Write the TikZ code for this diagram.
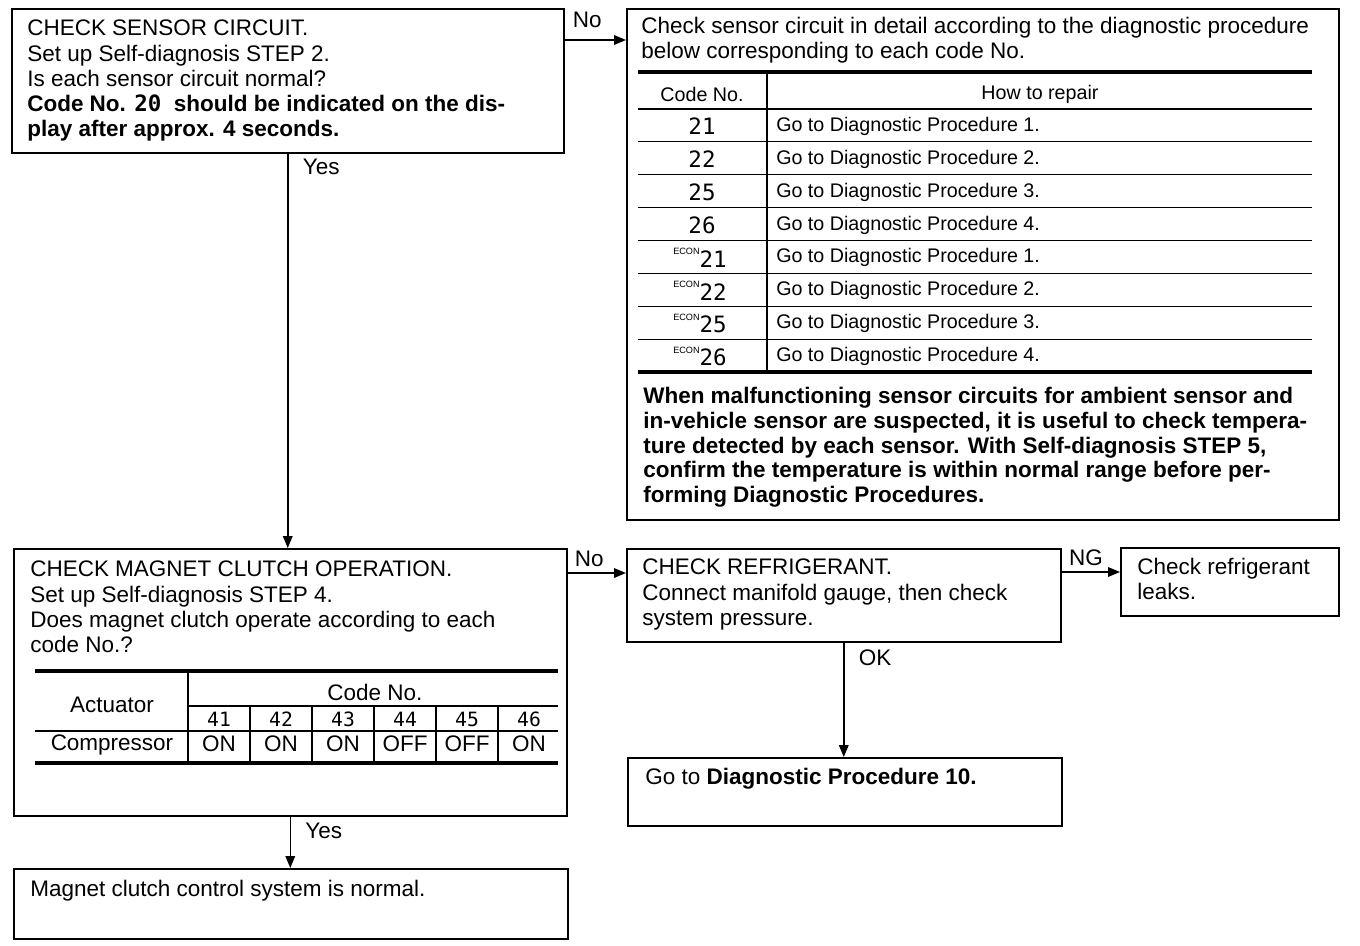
\documentclass[tikz,border=0pt]{standalone}
\usepackage{fontspec}
\setmainfont{Liberation Sans}
\newfontfamily\segfont{DejaVu Sans Mono}
\usetikzlibrary{arrows.meta,positioning,calc}

\newcommand{\seg}[1]{{\segfont\fontsize{16}{16}\selectfont #1}}
\newcommand{\segsm}[1]{{\segfont\fontsize{14}{14}\selectfont #1}}
\newcommand{\econ}[1]{\raisebox{1.2ex}{\fontsize{6.5}{7}\selectfont ECON}\seg{#1}}

\begin{document}
\begin{tikzpicture}[x=0.25mm,y=-0.25mm,
    box/.style={draw, line width=1.1pt, anchor=north west, inner sep=0pt},
    txt/.style={anchor=north west, inner sep=0pt, align=left, font=\fontsize{16}{17.8}\selectfont},
    lbl/.style={inner sep=0pt, font=\fontsize{16}{17.8}\selectfont},
    cell/.style={inner sep=0pt, font=\fontsize{14}{16}\selectfont},
    arr/.style={-{Triangle[length=3mm,width=2.4mm]}, line width=1.1pt},
    thickrule/.style={line width=2.2pt},
    thinrule/.style={line width=0.8pt}
]
\useasboundingbox (0,0) rectangle (1360,946);

% boxes
\node[box, minimum width=552*0.25mm, minimum height=144*0.25mm] (chk) at (11,8) {};
\node[box, minimum width=712*0.25mm, minimum height=511*0.25mm] (detail) at (626,8) {};
\node[box, minimum width=553*0.25mm, minimum height=267*0.25mm] (clutch) at (13,548) {};
\node[box, minimum width=434*0.25mm, minimum height=93*0.25mm] (refrig) at (626,548) {};
\node[box, minimum width=218*0.25mm, minimum height=68*0.25mm] (leaks) at (1120,547) {};
\node[box, minimum width=434*0.25mm, minimum height=68*0.25mm] (proc10) at (627,757) {};
\node[box, minimum width=554*0.25mm, minimum height=70*0.25mm] (normal) at (13,868) {};

% texts
\node[txt] (chktxt) at ($(chk.north west)+(16,12)$) {CHECK SENSOR CIRCUIT.\\Set up Self-diagnosis STEP 2.\\Is each sensor circuit normal?\\\textbf{Code No. \seg{20}\ \ should be indicated on the dis-}\\\textbf{play after approx. 4 seconds.}};
\node[txt] (dettxt) at ($(detail.north west)+(15,9)$) {Check sensor circuit in detail according to the diagnostic procedure\\below corresponding to each code No.};
\node[txt, font=\fontsize{16}{17.6}\selectfont\bfseries] (note) at (643,387) {When malfunctioning sensor circuits for ambient sensor and\\in-vehicle sensor are suspected, it is useful to check tempera-\\ture detected by each sensor. With Self-diagnosis STEP 5,\\confirm the temperature is within normal range before per-\\forming Diagnostic Procedures.};
\node[txt] (clutchtxt) at ($(clutch.north west)+(17,13)$) {CHECK MAGNET CLUTCH OPERATION.\\Set up Self-diagnosis STEP 4.\\Does magnet clutch operate according to each\\code No.?};
\node[txt] (refrigtxt) at ($(refrig.north west)+(16,11)$) {CHECK REFRIGERANT.\\Connect manifold gauge, then check\\system pressure.};
\node[txt] (leakstxt) at ($(leaks.north west)+(17,11)$) {Check refrigerant\\leaks.};
\node[txt] (proc10txt) at ($(proc10.north west)+(18,11)$) {Go to \textbf{Diagnostic Procedure 10.}};
\node[txt] (normaltxt) at ($(normal.north west)+(17,12)$) {Magnet clutch control system is normal.};

% code table
\draw[thickrule] (638,72) -- (1312,72);
\draw[thickrule] (638,372) -- (1312,372);
\foreach \i in {0,...,7}
  \draw[thinrule] (638,{109+32.875*\i}) -- (1312,{109+32.875*\i});
\draw[thinrule] (767,72) -- (767,372);
\node[cell] (hcode) at (702,94) {Code No.};
\node[cell] (hrepair) at (1040,94) {How to repair};
\foreach \d/\n [count=\i from 0] in {21/1,22/2,25/3,26/4}{
  \node[cell] (code\i) at (702,{126.4+32.875*\i}) {\seg{\d}};
  \node[cell, anchor=west] (rep\i) at (776,{126.4+32.875*\i}) {Go to Diagnostic Procedure \n.};
  \node[cell] (ecode\i) at (700,{126.4+32.875*(\i+4)}) {\econ{\d}};
  \node[cell, anchor=west] (erep\i) at (776,{126.4+32.875*(\i+4)}) {Go to Diagnostic Procedure \n.};
}

% actuator table
\draw[thickrule] (35,671) -- (558,671);
\draw[thickrule] (35,763) -- (558,763);
\draw[thinrule] (188,706) -- (558,706);
\draw[thinrule] (35,731) -- (558,731);
\draw[thinrule] (188,671) -- (188,763);
\foreach \x in {250,312,374,436,498}
  \draw[thinrule] (\x,706) -- (\x,763);
\node[lbl] (actuator) at (112,705) {Actuator};
\node[lbl] (codeno) at (375,692) {Code No.};
\node[lbl] (compressor) at (112,745) {Compressor};
\foreach \c/\s [count=\i] in {41/ON,42/ON,43/ON,44/OFF,45/OFF,46/ON}{
  \node[cell] (acode\i) at ({157+62*\i},719) {\segsm{\c}};
  \node[lbl] (state\i) at ({157+62*\i},744) {\s};
}

% connectors
\draw[arr] ($(chk.north east)+(0,32)$) -- node[lbl, pos=0.37, above=3mm] (no1) {No} ($(detail.north west)+(0,32)$);
\draw[arr] (chk.south) -- node[lbl, at start, anchor=north west, xshift=3.6mm, yshift=-1.3mm] (yes1) {Yes} (chk.south |- clutch.north);
\draw[arr] ($(clutch.north east)+(0,25)$) -- node[lbl, pos=0.37, above=1.5mm] (no2) {No} ($(refrig.north west)+(0,25)$);
\draw[arr] ($(refrig.north east)+(0,24)$) -- node[lbl, pos=0.42, above=1.5mm] (ng) {NG} ($(leaks.north west)+(0,25)$);
\draw[arr] (refrig.south) -- node[lbl, at start, anchor=north west, xshift=3.6mm, yshift=-1.5mm] (ok) {OK} (refrig.south |- proc10.north);
\draw[arr] (clutch.south) -- node[lbl, at start, anchor=north west, xshift=3.6mm, yshift=-1.5mm] (yes2) {Yes} (clutch.south |- normal.north);
\end{tikzpicture}
\end{document}
